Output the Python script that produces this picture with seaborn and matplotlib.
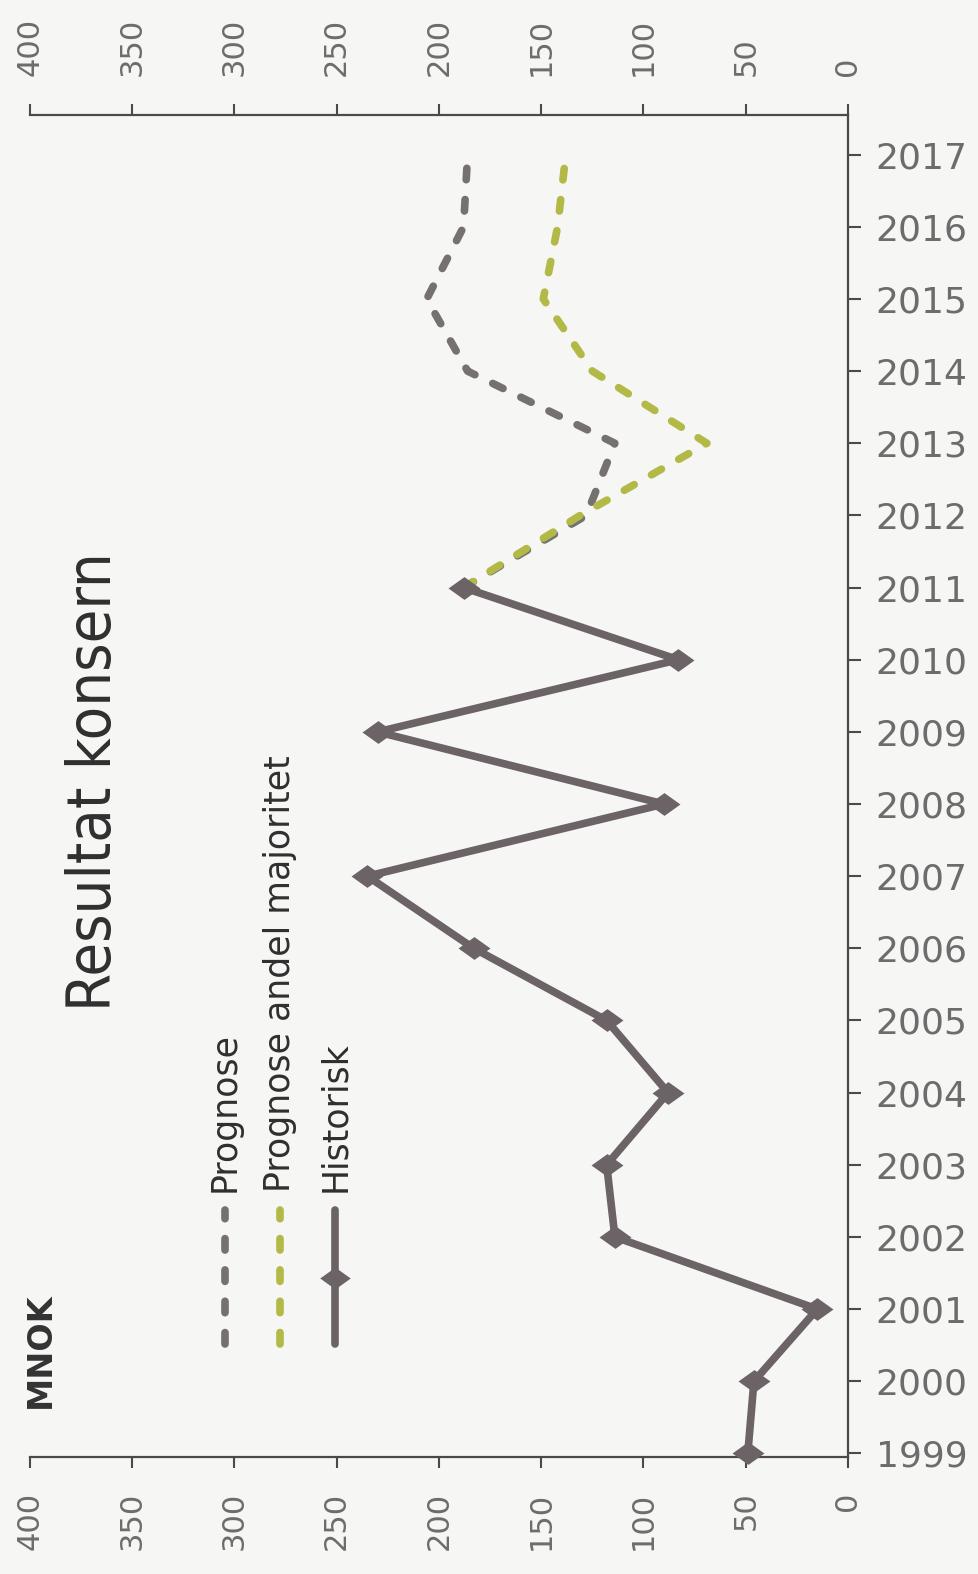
import matplotlib
matplotlib.use("Agg")
import matplotlib.pyplot as plt
from matplotlib.lines import Line2D
import seaborn as sns

#--------------------------------Data----------------------------#
years_hist = [1999, 2000, 2001, 2002, 2003, 2004, 2005, 2006, 2007, 2008, 2009, 2010, 2011]
historisk = [49, 46, 15, 114, 118, 88, 118, 183, 235, 90, 230, 83, 188]

years_prog = [2011, 2012, 2013, 2014, 2015, 2016, 2017]
prognose = [188, 128, 114, 186, 206, 188, 186]
prognose_andel = [188, 131, 69, 125, 149, 142, 138]

year_ticks = list(range(1999, 2018))
value_ticks = [0, 50, 100, 150, 200, 250, 300, 350, 400]
legend_labels = ["Prognose", "Prognose andel majoritet", "Historisk"]

#--------------------------------Style----------------------------#
W, H = 979, 1574
bg = "#f6f6f5"
c_hist = "#6b6366"
c_prog = "#75716f"
c_andel = "#b3b947"
axis_col = "#4a4a4a"
lbl_col = "#6c6c6c"

sns.set_theme(style="white")
plt.rcParams["font.family"] = ["DejaVu Sans"]

fig = plt.figure(figsize=(W / 100, H / 100), dpi=100, facecolor=bg)

def fx(px):
    return px / W

def fy(py):
    return 1 - py / H

# chart is drawn turned on its side: years run up the right edge
ax = fig.add_axes([fx(30), fy(1457), fx(848) - fx(30), fy(115) - fy(1457)])
ax.set_facecolor(bg)

diamond = [(-1.4, 0), (0, 1), (1.4, 0), (0, -1), (-1.4, 0)]
dash = (0, (1.5, 2.6))
lw = 5.5

sns.lineplot(x=prognose, y=years_prog, orient="y", ax=ax, color=c_prog,
             linewidth=lw, linestyle=dash, dash_capstyle="round", zorder=3)
sns.lineplot(x=prognose_andel, y=years_prog, orient="y", ax=ax, color=c_andel,
             linewidth=lw, linestyle=dash, dash_capstyle="round", zorder=3)
sns.lineplot(x=historisk, y=years_hist, orient="y", ax=ax, color=c_hist,
             linewidth=lw, marker=diamond, markersize=23, markeredgewidth=0,
             clip_on=False, zorder=4)

ax.set_xlim(400, 0)
ax.set_ylim(1998.95, 2017.55)
ax.set_xlabel("")
ax.set_ylabel("")

ax.set_yticks(year_ticks)
ax.set_yticklabels([str(y) for y in year_ticks])
ax.yaxis.tick_right()
ax.tick_params(axis="y", direction="out", length=9, width=1.5, color=axis_col,
               labelsize=26, labelcolor=lbl_col, pad=11, left=False, right=True)

ax.set_xticks(value_ticks)
ax.set_xticklabels([str(v) for v in value_ticks], rotation=90)
ax.tick_params(axis="x", direction="out", length=8, width=1.5, color=axis_col,
               labelsize=22, labelcolor=lbl_col, pad=17, bottom=True, top=False)

for side in ["left", "top"]:
    ax.spines[side].set_visible(False)
for side in ["bottom", "right"]:
    ax.spines[side].set_color(axis_col)
    ax.spines[side].set_linewidth(1.6)

# second value axis along the top
ax2 = ax.twiny()
ax2.set_xlim(400, 0)
ax2.set_xticks(value_ticks)
ax2.set_xticklabels([str(v) for v in value_ticks], rotation=90)
ax2.tick_params(axis="x", direction="out", length=8, width=1.5, color=axis_col,
                labelsize=22, labelcolor=lbl_col, pad=20)
for side in ["left", "right", "bottom"]:
    ax2.spines[side].set_visible(False)
ax2.spines["top"].set_color(axis_col)
ax2.spines["top"].set_linewidth(1.6)
ax2.grid(False)
ax.grid(False)

#--------------------------------Texts and legend----------------------------#
fig.text(fx(95), fy(782), "Resultat konsern", rotation=90, ha="center", va="center",
         fontsize=44, fontstretch="condensed", color="#2f2f2f")
fig.text(fx(40), fy(1350), "MNOK", rotation=90, ha="center", va="center",
         fontsize=24, fontweight="bold", color="#333333")

leg_x = [225, 280, 335]
leg_col = [c_prog, c_andel, c_hist]
for i, lab in enumerate(legend_labels):
    if i < 2:
        h = Line2D([fx(leg_x[i]), fx(leg_x[i])], [fy(1344), fy(1210)], transform=fig.transFigure,
                   color=leg_col[i], linewidth=lw, linestyle=dash, dash_capstyle="round")
    else:
        h = Line2D([fx(leg_x[i]), fx(leg_x[i])], [fy(1344), fy(1210)], transform=fig.transFigure,
                   color=leg_col[i], linewidth=lw, solid_capstyle="round")
        fig.add_artist(Line2D([fx(leg_x[i])], [fy(1278)], transform=fig.transFigure,
                              color=leg_col[i], marker=diamond, markersize=22, markeredgewidth=0))
    fig.add_artist(h)
    fig.text(fx(leg_x[i]), fy(1192), lab, rotation=90, rotation_mode="anchor",
             ha="left", va="center", fontsize=25, color="#2f2f2f")

fig.savefig("out.png", dpi=100, facecolor=bg)
